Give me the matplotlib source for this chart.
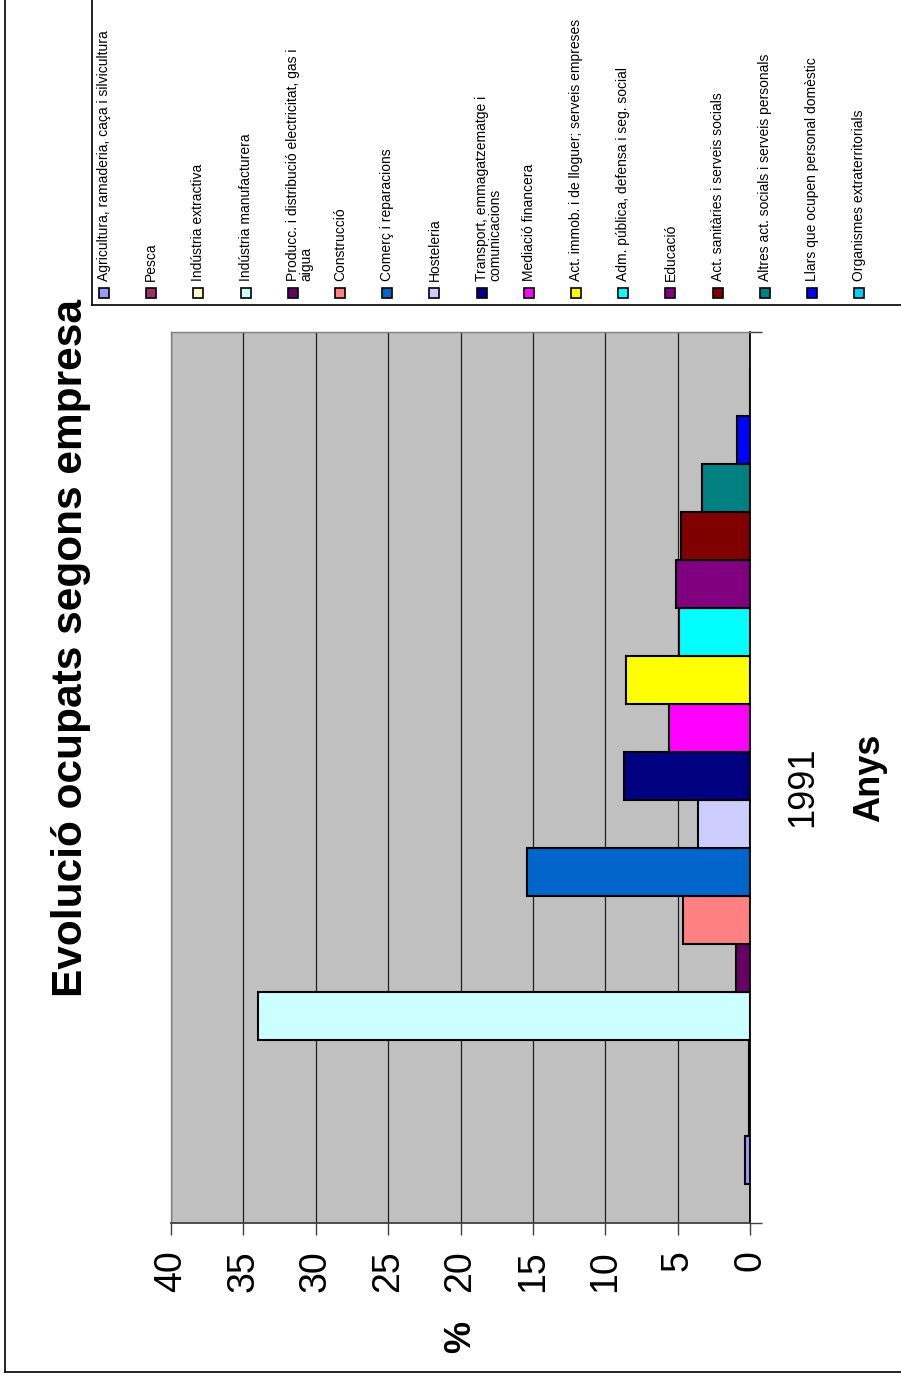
import matplotlib
matplotlib.use('Agg')
import matplotlib.pyplot as plt
from matplotlib.patches import Rectangle
from matplotlib.lines import Line2D

# ---------------- data ----------------
categories = [
    "Agricultura, ramaderia, caça i silvicultura",
    "Pesca",
    "Indústria extractiva",
    "Indústria manufacturera",
    "Producc. i distribució electricitat, gas i\naigua",
    "Construcció",
    "Comerç i reparacions",
    "Hosteleria",
    "Transport, emmagatzematge i\ncomunicacions",
    "Mediació financera",
    "Act. immob. i de lloguer; serveis empreses",
    "Adm. pública, defensa i seg. social",
    "Educació",
    "Act. sanitàries i serveis socials",
    "Altres act. socials i serveis personals",
    "Llars que ocupen personal domèstic",
    "Organismes extraterritorials",
]
values_1991 = [0.35, 0.05, 0.1, 34.0, 1.0, 4.6, 15.4, 3.6, 8.7, 5.6, 8.55, 4.9, 5.1, 4.8, 3.3, 0.9, 0.0]
colors = ["#9999FF", "#993366", "#FFFFCC", "#CCFFFF", "#660066", "#FF8080", "#0066CC",
          "#CCCCFF", "#000080", "#FF00FF", "#FFFF00", "#00FFFF", "#800080", "#800000",
          "#008080", "#0000FF", "#00CCFF"]
year_label = "1991"
value_ticks = [0, 5, 10, 15, 20, 25, 30, 35, 40]
title = "Evolució ocupats segons empresa"
x_title = "Anys"
y_title = "%"

# ---------------- layout ----------------
W, H = 901, 1380
plt.rcParams['font.family'] = ['Liberation Sans', 'DejaVu Sans']
fig = plt.figure(figsize=(W / 100, H / 100), dpi=100)
fig.patch.set_facecolor('white')

def fx(px):
    return px / W

def fy(py):
    return 1 - py / H

L, R, T, B = 171, 750, 332, 1223
ax = fig.add_axes([fx(L), fy(B), (R - L) / W, (B - T) / H])
ax.set_facecolor('#C0C0C0')

pos = list(range(len(categories)))
ax.barh(pos, values_1991, height=1.0, color=colors, edgecolor='black',
        linewidth=1.5, zorder=3)
ax.set_xlim(40, 0)
ylo, yhi = -1.3125, 17.25
ax.set_ylim(ylo, yhi)

ax.set_xticks(value_ticks)
ax.set_xticklabels([str(t) for t in value_ticks], rotation=90, fontsize=27)
ax.tick_params(axis='x', length=8.6, width=1, color='#404040', pad=11, direction='out')
ax.grid(axis='x', color='#202020', linewidth=0.9, zorder=0)
ax.set_axisbelow(True)

ax.yaxis.tick_right()
ax.set_yticks([ylo, yhi])
ax.set_yticklabels(['', ''])
ax.tick_params(axis='y', length=8.6, width=1, color='#404040', direction='out')

for side in ['left', 'top']:
    ax.spines[side].set_color('#808080')
    ax.spines[side].set_linewidth(1.0)
ax.spines['bottom'].set_color('#404040')
ax.spines['bottom'].set_linewidth(1.3)
ax.spines['right'].set_color('#000000')
ax.spines['right'].set_linewidth(1.3)

# ---------------- texts ----------------
fig.text(fx(71), fy(648), title, rotation=90, fontsize=30.5, fontweight='bold',
         ha='center', va='center')
fig.text(fx(803), fy(787), year_label, rotation=90, fontsize=26, ha='center', va='center')
fig.text(fx(870), fy(778), x_title, rotation=90, fontsize=26, fontweight='bold',
         ha='center', va='center')
fig.text(fx(461), fy(1337), y_title, rotation=90, fontsize=26, fontweight='bold',
         ha='center', va='center')

# ---------------- legend ----------------
leg_left, leg_bottom = 92, 305
fig.add_artist(Line2D([fx(leg_left), fx(leg_left)], [fy(0), fy(leg_bottom)],
                      transform=fig.transFigure, color='black', lw=1.2))
fig.add_artist(Line2D([fx(leg_left), fx(W + 5)], [fy(leg_bottom), fy(leg_bottom)],
                      transform=fig.transFigure, color='black', lw=1.2))
step = 47.2
for i, (lab, col) in enumerate(zip(categories, colors)):
    xc = 104 + i * step
    fig.add_artist(Rectangle((fx(xc - 5), fy(298)), 10 / W, 10 / H,
                             transform=fig.transFigure, facecolor=col,
                             edgecolor='black', linewidth=1.2))
    for k, line in enumerate(lab.split('\n')):
        fig.text(fx(xc + k * 14), fy(281), line, rotation=90, rotation_mode='anchor',
                 ha='left', va='center', fontsize=10)

# outer border
fig.add_artist(Line2D([fx(5), fx(5)], [fy(0), fy(1372)], transform=fig.transFigure,
                      color='black', lw=1.2))
fig.add_artist(Line2D([fx(5), fx(W + 5)], [fy(1372), fy(1372)], transform=fig.transFigure,
                      color='black', lw=1.2))

fig.savefig('out.png', dpi=100)
